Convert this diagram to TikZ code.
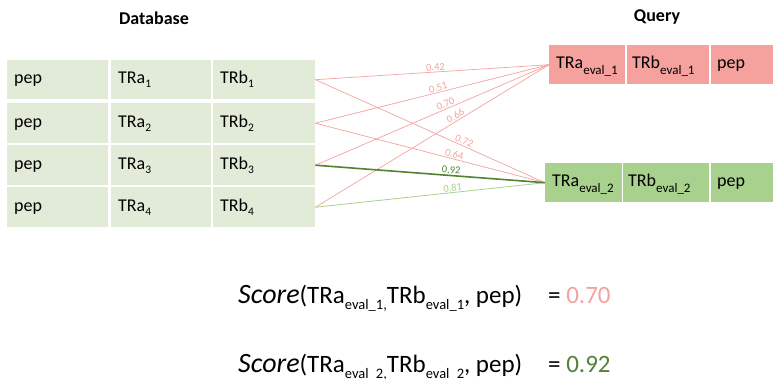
\documentclass[tikz,border=0pt]{standalone}
\usepackage{fontspec}
\setmainfont{Carlito}
\definecolor{dbfill}{HTML}{E2EBD8}
\definecolor{pinkfill}{HTML}{F5A19D}
\definecolor{greenfill}{HTML}{A9D18E}
\definecolor{pinkline}{HTML}{F4A3A0}
\definecolor{darkgreen}{HTML}{548235}
\definecolor{lightgreen}{HTML}{A9D18E}
\newcommand\fs[1]{\fontsize{#1}{#1}\selectfont}
\newcommand\tsub[1]{\raisebox{-4pt}{\fs{11.5}#1}}
\newcommand\qsub[1]{\raisebox{-6pt}{\fs{13}#1}}
\newcommand\fsub[1]{\raisebox{-6pt}{\fs{14.5}#1}}
\begin{document}
\begin{tikzpicture}[x=1pt,y=-1pt,
  cell/.style={anchor=north west, minimum height=39pt, align=left, inner xsep=7pt, inner ysep=0pt, font=\fs{18}, text height=12pt, text depth=4pt},
  lbl/.style={sloped, above, inner sep=1pt, font=\fs{10.5}},
  pl/.style={draw=pinkline, line width=0.7pt},
]
\useasboundingbox (0,0) rectangle (773,378);
\fill[white] (0,0) rectangle (773,378);

\node[font=\fs{18}\bfseries] (dbh) at (154,18) {Database};
\node[font=\fs{18}\bfseries] (qh) at (657,17) {Query};

\foreach \i/\y/\h in {1/60/39,2/103/40,3/145/40,4/187/40}{
  \node[cell, fill=dbfill, minimum height=\h pt, text width=87pt] (p\i) at (7,\y) {pep};
  \node[cell, fill=dbfill, minimum height=\h pt, text width=86pt] (a\i) at (111,\y) {TRa\tsub{\i}};
  \node[cell, fill=dbfill, minimum height=\h pt, text width=88pt] (b\i) at (213,\y) {TRb\tsub{\i}};
}

\node[cell, fill=pinkfill, text width=62pt] (qa1) at (549,45) {TRa\qsub{eval\_1}};
\node[cell, fill=pinkfill, inner xsep=5pt, text width=72pt] (qb1) at (627,45) {TRb\qsub{eval\_1}};
\node[cell, fill=pinkfill, inner xsep=6pt, text width=64pt] (qp1) at (711,45) {pep};

\node[cell, fill=greenfill, text width=63pt] (qa2) at (545,163) {TRa\qsub{eval\_2}};
\node[cell, fill=greenfill, inner xsep=5pt, text width=76pt] (qb2) at (623,163) {TRb\qsub{eval\_2}};
\node[cell, fill=greenfill, inner xsep=6pt, text width=64pt] (qp2) at (711,163) {pep};

\draw[pl] (b1.east) -- node[lbl, pos=0.515, text=pinkline]{0.42} (qa1.west);
\draw[pl] (b1.east) -- node[lbl, pos=0.64, text=pinkline]{0.72} (qa2.west);
\draw[pl] (b2.east) -- node[lbl, pos=0.53, text=pinkline]{0.51} (qa1.west);
\draw[pl] (b2.east) -- node[lbl, pos=0.60, text=pinkline]{0.64} (qa2.west);
\draw[pl] (b3.east) -- node[lbl, pos=0.565, text=pinkline]{0.70} (qa1.west);
\draw[pl] (b4.east) -- node[lbl, pos=0.61, text=pinkline]{0.66} (qa1.west);
\draw[draw=lightgreen, line width=0.8pt] (b4.east) -- node[lbl, pos=0.60, text=lightgreen]{0.81} (qa2.west);
\draw[draw=darkgreen, line width=1.6pt] (b3.east) -- node[lbl, pos=0.59, text=darkgreen]{0.92} (qa2.west);

\node[anchor=base west, inner sep=0pt, font=\fs{25}] (f1) at (238,303) {{\fs{28}\itshape Score}(TRa\fsub{eval\_1,}TRb\fsub{eval\_1}, pep)};
\node[anchor=base west, inner sep=0pt, font=\fs{25}] (v1) at (548,303) {= \textcolor{pinkfill}{0.70}};
\node[anchor=base west, inner sep=0pt, font=\fs{25}] (f2) at (238,372) {{\fs{28}\itshape Score}(TRa\fsub{eval\_2,}TRb\fsub{eval\_2}, pep)};
\node[anchor=base west, inner sep=0pt, font=\fs{25}] (v2) at (548,372) {= \textcolor{darkgreen}{0.92}};
\end{tikzpicture}
\end{document}
